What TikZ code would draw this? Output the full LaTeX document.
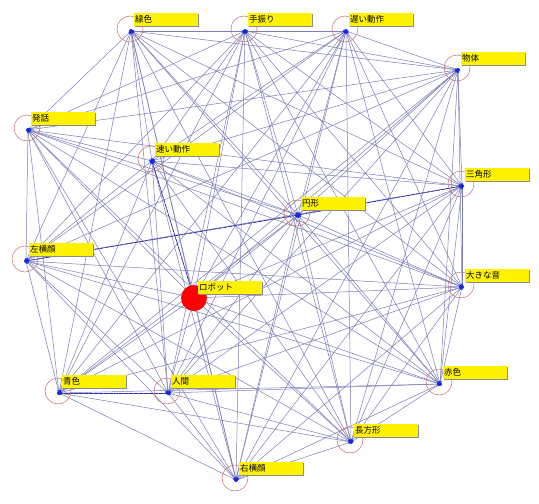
\documentclass[tikz,border=0pt]{standalone}
\usepackage{fontspec}
\newfontfamily\jpfont{Noto Sans CJK JP}
\usetikzlibrary{backgrounds,shadows,arrows.meta}
\definecolor{edgecol}{RGB}{125,125,185}
\definecolor{dotcol}{RGB}{20,40,230}
\definecolor{ringcol}{RGB}{200,110,110}
\definecolor{darkedge}{RGB}{40,40,180}
\newcommand\mknode[4]{%
  \node[dotnode] (#1) at (#2,#3) {};
  \node[ring] (#1r) at (#2-1,#3-2) {};
  \node[lab] (#1l) at (#2+3,#3-18) {#4};
}
\begin{document}
\begin{tikzpicture}[x=1pt,y=-1pt,
  dotnode/.style={circle,fill=dotcol,inner sep=0pt,minimum size=4pt},
  ring/.style={circle,draw=ringcol,line width=0.5pt,minimum size=26pt,inner sep=0pt},
  lab/.style={fill=yellow,anchor=north west,minimum height=13pt,text width=62pt,inner sep=1pt,
    align=left,font=\jpfont\fontsize{8.5}{10}\selectfont,
    drop shadow={shadow xshift=0.8pt,shadow yshift=-0.8pt,fill=black!45,opacity=1}},
  link/.style={draw=edgecol,line width=0.5pt,{Stealth[length=3pt,width=2.2pt,color=dotcol]}-{Stealth[length=3pt,width=2.2pt,color=dotcol]}},
  dlink/.style={draw=darkedge,line width=0.6pt,dash pattern=on 4pt off 1pt}]
\useasboundingbox (0,0) rectangle (539,504);
% nodes
\mknode{A}{131}{31}{緑色}
\mknode{B}{245}{31}{手振り}
\mknode{C}{346}{31}{遅い動作}
\mknode{D}{458}{70}{物体}
\mknode{E}{28}{130}{発話}
\mknode{F}{152}{161}{速い動作}
\mknode{G}{462}{186}{三角形}
\mknode{H}{298}{215}{円形}
\mknode{I}{26}{261}{左横顔}
\mknode{J}{462}{287}{大きな音}
\node[circle,fill=red,inner sep=0pt,minimum size=26pt] (K) at (194,298) {};
\node[lab] (Kl) at (198,281) {ロボット};
\mknode{L}{59}{393}{青色}
\mknode{M}{168}{393}{人間}
\mknode{N}{440}{384}{赤色}
\mknode{O}{351}{442}{長方形}
\mknode{P}{236}{480}{右横顔}
% edges
\begin{scope}[on background layer]
\fill[white] (0,0) rectangle (539,504);
\foreach \a [count=\i] in {A,B,C,D,E,F,G,H,I,J,K,L,M,N,O,P}{
  \foreach \b [count=\j] in {A,B,C,D,E,F,G,H,I,J,K,L,M,N,O,P}{
    \ifnum\j>\i \draw[link] (\a.center) -- (\b.center); \fi
  }
}
\draw[dlink] (I.center) -- (H.center);
\draw[dlink] (H.center) -- (G.center);
\draw[dlink] (L.center) -- (M.center);
\draw[dlink] (F.center) -- (K.center);
\end{scope}
\end{tikzpicture}
\end{document}
